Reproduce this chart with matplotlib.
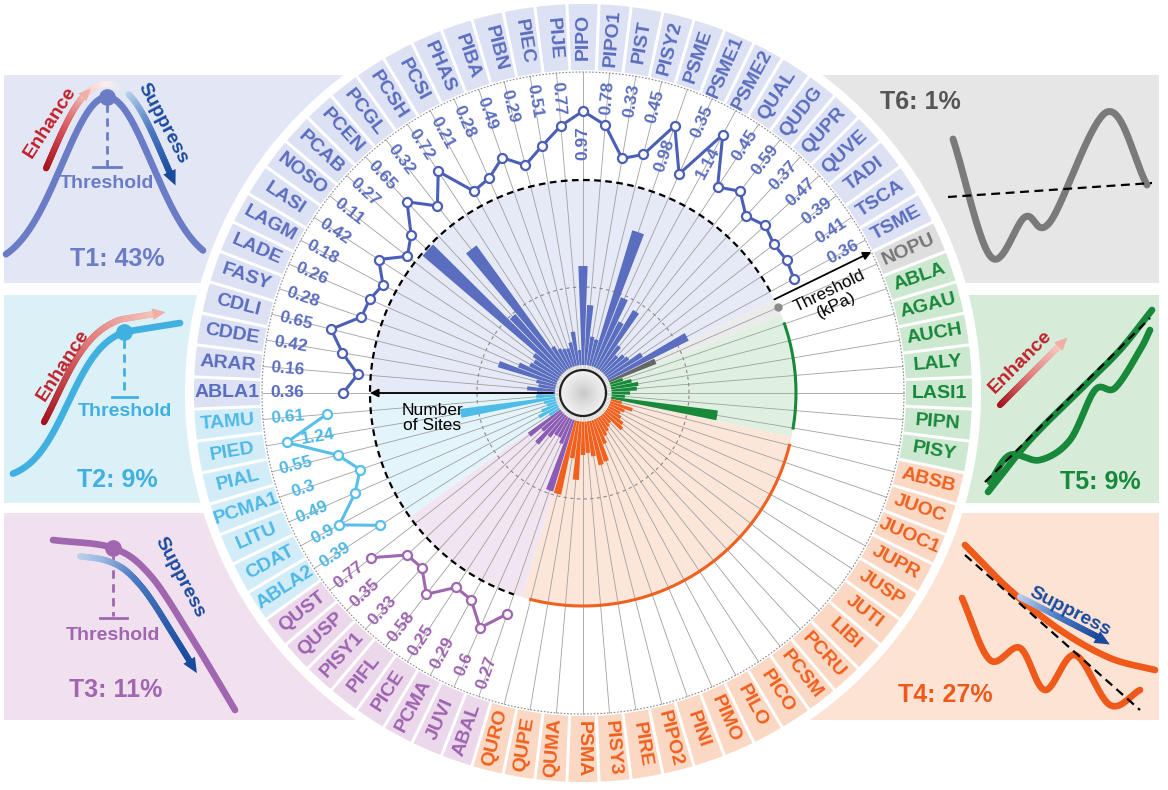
import numpy as np
import matplotlib
matplotlib.use("Agg")
import matplotlib.pyplot as plt
import matplotlib.colors as mcolors
from matplotlib.collections import LineCollection
from matplotlib.patches import Rectangle, Polygon

plt.rcParams['font.family'] = ['Liberation Sans', 'DejaVu Sans']

# ---------------- data ----------------
t1_species = ['ABLA1', 'ARAR', 'CDDE', 'CDLI', 'FASY', 'LADE', 'LAGM', 'LASI', 'NOSO', 'PCAB',
              'PCEN', 'PCGL', 'PCSH', 'PCSI', 'PHAS', 'PIBA', 'PIBN', 'PIEC', 'PIJE', 'PIPO',
              'PIPO1', 'PIST', 'PISY2', 'PSME', 'PSME1', 'PSME2', 'QUAL', 'QUDG', 'QUPR', 'QUVE',
              'TADI', 'TSCA', 'TSME']
t1_threshold = [0.36, 0.16, 0.42, 0.65, 0.28, 0.26, 0.18, 0.42, 0.11, 0.27,
                0.65, 0.32, 0.72, 0.21, 0.28, 0.49, 0.29, 0.51, 0.77, 0.97,
                0.78, 0.33, 0.45, 0.98, 0.35, 1.14, 0.45, 0.59, 0.37, 0.47,
                0.39, 0.41, 0.36]
t1_sites = [18, 28, 17, 20, 61, 42, 32, 30, 34, 183,
            76, 154, 27, 22, 20, 19, 24, 34, 15, 99,
            60, 29, 27, 142, 75, 52, 69, 31, 22, 27,
            29, 42, 90]

t6_species = ['NOPU']
t6_sites = [51]

t5_species = ['ABLA', 'AGAU', 'AUCH', 'LALY', 'LASI1', 'PIPN', 'PISY']
t5_sites = [14, 22, 28, 26, 19, 14, 108]

t4_species = ['ABSB', 'JUOC', 'JUOC1', 'JUPR', 'JUSP', 'JUTI', 'LIBI', 'PCRU', 'PCSM', 'PICO',
              'PILO', 'PIMO', 'PINI', 'PIPO2', 'PIRE', 'PISY3', 'PSMA', 'QUMA', 'QUPE', 'QURO']
t4_sites = [12, 24, 17, 14, 17, 22, 25, 12, 14, 17,
            20, 27, 44, 46, 36, 32, 34, 59, 38, 76]

t3_species = ['ABAL', 'JUVI', 'PCMA', 'PICE', 'PIFL', 'PISY1', 'QUSP', 'QUST']
t3_threshold = [0.27, 0.6, 0.29, 0.25, 0.58, 0.33, 0.35, 0.77]
t3_sites = [75, 27, 22, 22, 27, 40, 27, 40]

t2_species = ['ABLA2', 'CDAT', 'LITU', 'PCMA1', 'PIAL', 'PIED', 'TAMU']
t2_threshold = [0.39, 0.9, 0.49, 0.3, 0.55, 1.24, 0.61]
t2_sites = [12, 22, 17, 10, 12, 96, 19]

group_share = {'T1': '43%', 'T2': '9%', 'T3': '11%', 'T4': '27%', 'T5': '9%', 'T6': '1%'}

# ---------------- styles ----------------
col_text = {'T1': '#5a6dbf', 'T2': '#4db8e6', 'T3': '#9d62b0', 'T4': '#f0601e', 'T5': '#18883a', 'T6': '#777777'}
col_box = {'T1': '#dce1f3', 'T2': '#d3edf8', 'T3': '#ebd8ea', 'T4': '#fbd8c3', 'T5': '#cce8d0', 'T6': '#dedede'}
col_wedge = {'T1': '#e6e9f6', 'T2': '#e4f4fb', 'T3': '#f2e5f2', 'T4': '#fce6da', 'T5': '#dff0e0', 'T6': '#ebebeb'}
col_panel = {'T1': '#e3e6f4', 'T2': '#dcf0f8', 'T3': '#f1e1ef', 'T4': '#fce3d4', 'T5': '#d6ebd8', 'T6': '#e6e6e6'}
col_bar = {'T1': '#5a6dbf', 'T2': '#4dbde8', 'T3': '#8b5cb3', 'T4': '#f0601e', 'T5': '#18883a', 'T6': '#666666'}
col_line = {'T1': '#4a5fb5', 'T2': '#56c0ea', 'T3': '#a066b0'}

W, H = 1168, 790
CX, CY = 583, 393
R_AX = 400

# assemble in clockwise order starting from the left
order = [('T1', t1_species, t1_sites, t1_threshold),
         ('T6', t6_species, t6_sites, None),
         ('T5', t5_species, t5_sites, None),
         ('T4', t4_species, t4_sites, None),
         ('T3', t3_species, t3_sites, t3_threshold),
         ('T2', t2_species, t2_sites, t2_threshold)]
species, groups, sites, thr = [], [], [], []
for g, sp, st, th in order:
    species += sp
    groups += [g] * len(sp)
    sites += st
    thr += (th if th is not None else [np.nan] * len(sp))
N = len(species)
step = 360.0 / N
ang = 180.0 - np.arange(N) * step          # degrees, math convention
th_rad = np.deg2rad(ang)

# radial layout (pixels)
R_HUB = 23
R_BAR0 = 28
R_INNER = 106
R_DASH = 213
R_DOT = 321
R_BOX0, R_BOX1 = 323, 389
R_WHITE = 398
THR0, THR_K = 215, 69


def thr_r(v):
    return THR0 + THR_K * np.asarray(v, float)


def rot(a):
    a = (a + 180) % 360 - 180
    if a > 90:
        return a - 180
    if a < -90:
        return a + 180
    return a


def catmull(pts, n=30):
    pts = np.asarray(pts, float)
    P = np.vstack([2 * pts[0] - pts[1], pts, 2 * pts[-1] - pts[-2]])
    out = []
    for i in range(1, len(P) - 2):
        p0, p1, p2, p3 = P[i - 1], P[i], P[i + 1], P[i + 2]
        t = np.linspace(0, 1, n, endpoint=False)[:, None]
        out.append(0.5 * ((2 * p1) + (-p0 + p2) * t + (2 * p0 - 5 * p1 + 4 * p2 - p3) * t ** 2
                          + (-p0 + 3 * p1 - 3 * p2 + p3) * t ** 3))
    out.append(pts[-1][None])
    return np.vstack(out)


fig = plt.figure(figsize=(W / 100, H / 100), dpi=100)
bg = fig.add_axes([0, 0, 1, 1])
bg.set_xlim(0, W)
bg.set_ylim(H, 0)
bg.axis('off')

# ---------------- corner panels ----------------
panels = {'T1': (4, 75, CX - 4, 208), 'T2': (4, 295, CX - 4, 208), 'T3': (4, 513, CX - 4, 207),
          'T6': (CX, 75, 1159 - CX, 208), 'T5': (CX, 295, 1159 - CX, 208), 'T4': (CX, 513, 1159 - CX, 207)}
for g, (x, y, w, h) in panels.items():
    bg.add_patch(Rectangle((x, y), w, h, facecolor=col_panel[g], edgecolor='none', zorder=0))


def grad_line(xy, c_list, lw, z=3):
    xy = np.asarray(xy)
    segs = np.stack([xy[:-1], xy[1:]], axis=1)
    cmap = mcolors.LinearSegmentedColormap.from_list('g', c_list)
    cols = cmap(np.linspace(0, 1, len(segs)))
    bg.add_collection(LineCollection(segs, colors=cols, linewidths=lw, capstyle='round', zorder=z))


def head(p0, p1, color, size=14, z=4):
    p0, p1 = np.asarray(p0, float), np.asarray(p1, float)
    d = p1 - p0
    d /= np.linalg.norm(d)
    n = np.array([-d[1], d[0]])
    tip = p1 + d * size * 0.6
    base = p1 - d * size * 0.4
    bg.add_patch(Polygon([tip, base + n * size * 0.45, base - n * size * 0.45], closed=True,
                         facecolor=color, edgecolor='none', zorder=z))


def offset_curve(xy, d):
    xy = np.asarray(xy, float)
    t = np.gradient(xy, axis=0)
    t /= np.linalg.norm(t, axis=1)[:, None]
    n = np.column_stack([t[:, 1], -t[:, 0]])
    return xy + d * n


RED = ['#a3121c', '#d8535a', '#f4b8b0']
BLUE = ['#b9d0ee', '#4d7cc4', '#1a4a9e']

# T1 bell curve
xb = np.linspace(6, 203, 200)
yb = 268 - 171 * np.exp(-0.5 * ((xb - 107) / 45) ** 2)
bg.plot(xb, yb, color='#6a7cc6', lw=4.8, solid_capstyle='round', zorder=2)
bg.plot([107], [97], 'o', color='#6a7cc6', ms=11, zorder=3)
bg.plot([107, 107], [104, 166], color='#6a7cc6', lw=2, ls=(0, (3, 2)), zorder=2)
bg.plot([93, 121], [167, 167], color='#6a7cc6', lw=2, zorder=2)
bg.text(107, 184, 'Threshold', color='#6a7cc6', fontsize=14, fontweight='bold', ha='center', va='center')
bg.text(117, 259, 'T1: ' + group_share['T1'], color='#6a7cc6', fontsize=18, fontweight='bold', ha='center', va='center')
xa = np.linspace(58, 160, 200)
ya = 268 - 171 * np.exp(-0.5 * ((xa - 107) / 45) ** 2)
oc = offset_curve(np.column_stack([xa, ya]), 13)
m1 = xa < 95
m2 = (xa >= 93) & (xa <= 121)
m3 = xa > 119
grad_line(oc[m1], RED, 4.5)
grad_line(oc[m2], ['#f6c6bc', '#fbeeee', '#d8e6f6'], 4.5)
grad_line(oc[m3], BLUE, 4.5)
head(oc[m1][-4], oc[m1][-1], '#f1aea4', 12)
head(oc[m3][-4], oc[m3][-1], '#1a4a9e', 15)
bg.text(50, 122, 'Enhance', color='#c0202a', fontsize=14, fontweight='bold', rotation=57, ha='center', va='center')
bg.text(163, 123, 'Suppress', color='#1a4a9e', fontsize=14, fontweight='bold', rotation=-62, ha='center', va='center')

# T2 saturating curve
x2 = np.linspace(13, 124, 150)
y2 = 482 - 160 / (1 + np.exp(-(x2 - 68) / 19))
y2 = y2 - (y2[-1] - 332) * (x2 - 13) / 111
x2b = np.linspace(124, 180, 40)
y2b = 332 - 9 * (x2b - 124) / 56
bg.plot(np.r_[x2, x2b], np.r_[y2, y2b], color='#3fb0e0', lw=4.8, solid_capstyle='round', zorder=2)
bg.plot([124], [332], 'o', color='#3fb0e0', ms=11, zorder=3)
bg.plot([124, 124], [340, 395], color='#3fb0e0', lw=2, ls=(0, (3, 2)))
bg.plot([112, 137], [397, 397], color='#3fb0e0', lw=2)
bg.text(125, 412, 'Threshold', color='#3fb0e0', fontsize=14, fontweight='bold', ha='center', va='center')
bg.text(117, 480, 'T2: ' + group_share['T2'], color='#3fb0e0', fontsize=18, fontweight='bold', ha='center', va='center')
c2 = np.column_stack([np.r_[x2, x2b], np.r_[y2, y2b]])
o2 = offset_curve(c2, 13)
sel = (c2[:, 0] > 55) & (c2[:, 0] < 160)
grad_line(o2[sel], ['#a3121c', '#e07a78', '#f5c4bc'], 4.5)
head(o2[sel][-4], o2[sel][-1], '#f2aea4', 13)
bg.text(63, 365, 'Enhance', color='#c0202a', fontsize=14, fontweight='bold', rotation=57, ha='center', va='center')

# T3 declining curve
c3 = catmull([(53, 540), (113, 548), (150, 575), (190, 635), (235, 710)], 40)
bg.plot(c3[:, 0], c3[:, 1], color='#a066b0', lw=4.8, solid_capstyle='round', zorder=2)
bg.plot([113], [548], 'o', color='#a066b0', ms=11, zorder=3)
bg.plot([113, 113], [556, 616], color='#a066b0', lw=2, ls=(0, (3, 2)))
bg.plot([100, 127], [618, 618], color='#a066b0', lw=2)
bg.text(113, 636, 'Threshold', color='#a066b0', fontsize=14, fontweight='bold', ha='center', va='center')
bg.text(116, 690, 'T3: ' + group_share['T3'], color='#a066b0', fontsize=18, fontweight='bold', ha='center', va='center')
o3 = offset_curve(c3, -14)
sel = (c3[:, 0] > 80) & (c3[:, 0] < 205)
grad_line(o3[sel], BLUE, 4.5)
head(o3[sel][-4], o3[sel][-1], '#1a4a9e', 15)
bg.text(180, 577, 'Suppress', color='#1a4a9e', fontsize=14, fontweight='bold', rotation=-62, ha='center', va='center')

# T6 wavy
c6 = catmull([(953, 139), (991, 257), (1025, 217), (1050, 222), (1107, 112), (1147, 185)], 40)
bg.plot(c6[:, 0], c6[:, 1], color='#7a7a7a', lw=5, solid_capstyle='round', zorder=2)
bg.plot([948, 1152], [197, 183], color='black', lw=1.6, ls=(0, (4, 2.5)), zorder=3)
bg.text(920, 102, 'T6: ' + group_share['T6'], color='#555555', fontsize=18, fontweight='bold', ha='center', va='center')

# T5 increasing
c5a = catmull([(988, 492), (1030, 440), (1080, 390), (1120, 350), (1152, 310)], 40)
c5b = catmull([(990, 482), (1010, 455), (1040, 460), (1070, 440), (1095, 390), (1115, 388), (1140, 350), (1150, 330)], 30)
bg.plot(c5a[:, 0], c5a[:, 1], color='#18883a', lw=4.8, solid_capstyle='round', zorder=2)
bg.plot(c5b[:, 0], c5b[:, 1], color='#18883a', lw=4.8, solid_capstyle='round', zorder=2)
bg.plot([985, 1150], [482, 318], color='black', lw=1.6, ls=(0, (4, 2.5)), zorder=3)
grad_line(np.column_stack([np.linspace(1000, 1060, 30), np.linspace(405, 345, 30)]), ['#a3121c', '#e07a78', '#f5c4bc'], 4.5)
head((1055, 350), (1062, 343), '#f2aea4', 13)
bg.text(1020, 362, 'Enhance', color='#c0202a', fontsize=14, fontweight='bold', rotation=45, ha='center', va='center')
bg.text(1100, 482, 'T5: ' + group_share['T5'], color='#18883a', fontsize=18, fontweight='bold', ha='center', va='center')

# T4 decreasing
c4a = catmull([(965, 545), (1010, 590), (1060, 630), (1110, 658), (1155, 670)], 40)
c4b = catmull([(962, 598), (990, 660), (1020, 648), (1045, 690), (1075, 655), (1110, 705), (1140, 690)], 30)
bg.plot(c4a[:, 0], c4a[:, 1], color='#ef5a1a', lw=4.8, solid_capstyle='round', zorder=2)
bg.plot(c4b[:, 0], c4b[:, 1], color='#ef5a1a', lw=4.8, solid_capstyle='round', zorder=2)
bg.plot([965, 1140], [555, 710], color='black', lw=1.6, ls=(0, (4, 2.5)), zorder=3)
grad_line(np.column_stack([np.linspace(1020, 1100, 30), np.linspace(597, 638, 30)]), BLUE, 4.5)
head((1095, 636), (1102, 640), '#1a4a9e', 15)
bg.text(1070, 612, 'Suppress', color='#1a4a9e', fontsize=14, fontweight='bold', rotation=-27, ha='center', va='center')
bg.text(945, 695, 'T4: ' + group_share['T4'], color='#ef5a1a', fontsize=18, fontweight='bold', ha='center', va='center')

# ---------------- circular part ----------------
ax = fig.add_axes([(CX - R_AX) / W, (H - CY - R_AX) / H, 2 * R_AX / W, 2 * R_AX / H], projection='polar')
ax.set_theta_zero_location('E')
ax.set_theta_direction(1)
ax.set_ylim(0, R_AX)
ax.axis('off')

full = np.linspace(0, 2 * np.pi, 721)
ax.fill_between(full, 0, R_WHITE, color='white', zorder=0, lw=0)

# group background wedges
gnames = [o[0] for o in order]
bounds = {}
for g in gnames:
    idx = [i for i in range(N) if groups[i] == g]
    a0 = ang[idx[0]] + step / 2
    a1 = ang[idx[-1]] - step / 2
    if g == 'T1':
        a0 = 180.0
    if g == 'T2':
        a1 = -180.0
    bounds[g] = (a0, a1, idx)
    ax.bar(np.deg2rad((a0 + a1) / 2), R_DASH, width=np.deg2rad(a0 - a1), bottom=0,
           color=col_wedge[g], edgecolor='none', zorder=1)

# label boxes
ax.bar(th_rad, R_BOX1 - R_BOX0, width=np.deg2rad(step), bottom=R_BOX0,
       color=[col_box[g] for g in groups], edgecolor='none', zorder=1)
for i in range(N):
    tb = np.deg2rad(ang[i] + step / 2)
    ax.plot([tb, tb], [R_BOX0 - 1, R_BOX1 + 1], color='white', lw=2.2, zorder=1.5)

# radial guide lines
for i in range(N):
    ax.plot([th_rad[i], th_rad[i]], [R_BAR0, R_DOT], color='#a0a0a0', lw=0.6, zorder=2)

# circles
ax.plot(full, np.full_like(full, R_INNER), color='#8a8a8a', lw=0.8, ls=(0, (3, 3)), zorder=2.2)
ax.plot(full, np.full_like(full, R_DOT), color='#8a8a8a', lw=0.8, ls=(0, (1.5, 1.5)), zorder=2.2)
a_start = ang[bounds['T1'][2][-1]]
a_end = ang[bounds['T3'][2][0]] + 360
arc = np.deg2rad(np.linspace(a_start, a_end, 400))
ax.plot(arc, np.full_like(arc, R_DASH), color='black', lw=1.6, ls=(0, (3, 2)), zorder=4)
for g in ['T5', 'T4']:
    idx = bounds[g][2]
    arc = np.deg2rad(np.linspace(ang[idx[0]], ang[idx[-1]], 200))
    ax.plot(arc, np.full_like(arc, R_DASH), color=col_bar[g], lw=2.2, zorder=4)
i6 = bounds['T6'][2][0]
ax.plot([th_rad[i6]], [R_DASH], 'o', color='#8a8a8a', ms=5, zorder=4)

# bars (number of sites)
ax.bar(th_rad, np.asarray(sites, float), width=np.deg2rad(step) * 0.88, bottom=R_BAR0,
       color=[col_bar[g] for g in groups], edgecolor='none', zorder=3)

# hub
for r, c in zip(np.linspace(R_HUB, 2, 12), plt.cm.Greys(np.linspace(0.12, 0.32, 12))):
    ax.fill_between(full, 0, r, color=c, lw=0, zorder=5)
ax.fill_between(full, R_HUB, R_BAR0, color='white', lw=0, zorder=4.4)
for t in np.linspace(0, 2 * np.pi, 120, endpoint=False):
    ax.plot([t, t], [R_HUB, R_BAR0], color='#c8c8c8', lw=0.5, zorder=4.5)
ax.plot(full, np.full_like(full, R_HUB), color='#222222', lw=1.6, zorder=5.5)

# threshold lines
for g in ['T1', 'T3', 'T2']:
    idx = bounds[g][2]
    v = np.array([thr[i] for i in idx])
    ax.plot(th_rad[idx], thr_r(v), color=col_line[g], lw=2.2, marker='o', ms=6.5,
            mfc='white', mec=col_line[g], mew=1.6, zorder=6)
    for i, vv in zip(idx, v):
        r = thr_r(vv) - 32 if vv > 0.95 else 296
        ax.text(th_rad[i], r, f'{vv:g}', rotation=rot(ang[i]), rotation_mode='anchor',
                ha='center', va='center', fontsize=12.5, fontweight='bold', color=col_text[g], zorder=7)

# species labels
for i in range(N):
    ax.text(th_rad[i], (R_BOX0 + R_BOX1) / 2, species[i], rotation=rot(ang[i]), rotation_mode='anchor',
            ha='center', va='center', fontsize=14, fontweight='bold', color=col_text[groups[i]], zorder=7)

# axis arrows and captions
ax.annotate('', xy=(np.pi, R_DASH), xytext=(np.pi, R_BAR0 + 2),
            arrowprops=dict(arrowstyle='-|>', color='black', lw=1.3, mutation_scale=12, shrinkA=0, shrinkB=0),
            zorder=8)
ax.text(np.deg2rad(-170.6), 153, 'Number\nof Sites', ha='center', va='center', fontsize=12.5, zorder=8,
        linespacing=1.0)
a_thr = np.deg2rad(ang[bounds['T1'][2][-1]] - step / 2)
ax.annotate('', xy=(a_thr, R_DOT), xytext=(a_thr, R_DASH),
            arrowprops=dict(arrowstyle='-|>', color='black', lw=1.3, mutation_scale=12, shrinkA=0, shrinkB=0),
            zorder=8)
ax.text(np.deg2rad(20.8), 267, 'Threshold\n(kPa)', ha='center', va='center', fontsize=12.5,
        rotation=26, rotation_mode='anchor', linespacing=1.0, zorder=8)

fig.savefig('out.png', dpi=100)
